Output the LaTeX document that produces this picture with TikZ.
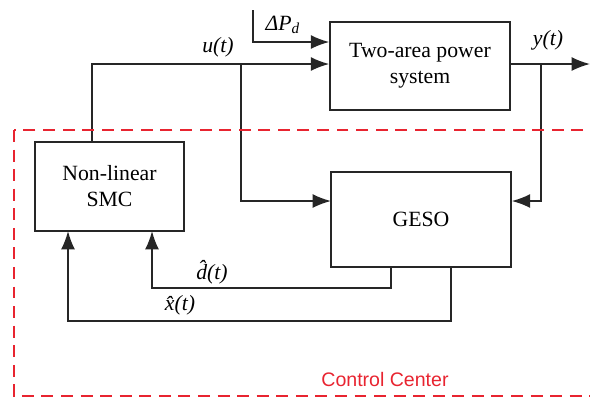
\documentclass[tikz,border=0pt]{standalone}
\usepackage{fontspec}
\setmainfont{Liberation Serif}
\newfontfamily\labelfont{Liberation Sans}
\usepackage{xcolor}
\usetikzlibrary{arrows.meta,positioning}
\definecolor{ccred}{RGB}{232,36,48}

\begin{document}
\begin{tikzpicture}[
  x=0.46pt,y=-0.46pt,
  box/.style={rectangle,draw=black!85,line width=0.7pt,align=center,font=\fontsize{10}{12}\selectfont},
  arr/.style={-{Latex[length=8.5pt,width=6.5pt]},line width=0.8pt,black!85},
  lin/.style={line width=0.8pt,black!85},
  sig/.style={font=\fontsize{10}{12}\selectfont\itshape}
]
\useasboundingbox (0,0) rectangle (590,399);
\clip (0,0) rectangle (590,399);
\node[box,minimum width=82.8pt,minimum height=40.5pt] (sys) at (420,66) {Two-area power\\system};
\node[box,minimum width=68.5pt,minimum height=41pt] (smc) at (109.5,186.5) {Non-linear\\SMC};
\node[box,minimum width=82.8pt,minimum height=43.7pt] (geso) at (421,219.5) {GESO};
\coordinate (dp) at (253,10);
\coordinate (u) at (92,64);
\coordinate (ub) at (241,64);
\coordinate (yb) at (541,64);
\coordinate (yend) at (590,64);
\coordinate (gin) at (331,201);
\coordinate (dh) at (391,288);
\coordinate (xh) at (451,321);
\draw[arr] (dp) |- (sys.west |- 0,42);
\draw[arr] (u |- smc.north) -- (u) -- (u -| sys.west);
\draw[arr] (ub) |- (gin);
\draw[lin] (sys.east |- yb) -- (yb);
\draw[arr] (yb) -- (yend);
\draw[arr] (yb) |- (geso.east |- gin);
\draw[arr] (geso.south -| dh) |- (152,288) -- (152,231);
\draw[arr] (geso.south -| xh) |- (68,321) -- (68,231);
\node[sig] (ulab) at (218,47) {u(t)};
\node[sig] (ylab) at (548,40) {y(t)};
\node[sig] (dplab) at (283,25) {ΔP\textsubscript{d}};
\node[sig] (dlab) at (212,272) {\^{d}(t)};
\node[sig] (xlab) at (180,305) {\^{x}(t)};
\draw[ccred,line width=0.8pt,dash pattern=on 5.5pt off 3.5pt] (14,130) rectangle (600,396);
\node[font=\labelfont\fontsize{9}{11}\selectfont,text=ccred] (cc) at (385,379) {Control Center};
\end{tikzpicture}
\end{document}
